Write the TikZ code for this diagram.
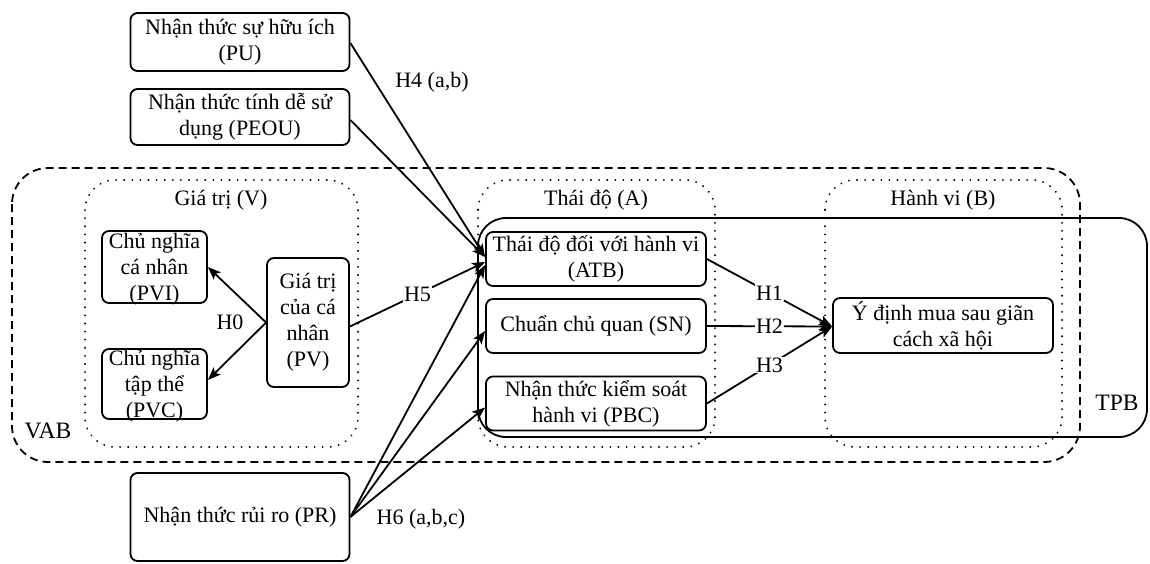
\documentclass[tikz,border=0pt]{standalone}
\usepackage{fontspec}
\setmainfont{Liberation Serif}
\usetikzlibrary{arrows.meta,calc}
\begin{document}
\begin{tikzpicture}[x=1pt,y=-1pt,
  font=\fontsize{22}{26}\selectfont,
  box/.style={draw, rounded corners=7pt, line width=1.8pt, align=center, inner sep=0pt},
  txt/.style={align=center, inner sep=0pt},
  arr/.style={-{Stealth[length=13pt,width=10pt,inset=3pt]}, line width=1.8pt},
  lbl/.style={fill=white, inner sep=1pt},
  dotbox/.style={line width=2pt, dash pattern=on 0.1pt off 8pt, line cap=round, rounded corners=30pt},
  dashbox/.style={line width=1.8pt, dash pattern=on 8pt off 5pt, rounded corners=36pt},
  tpbbox/.style={line width=1.8pt, rounded corners=28pt},
  big/.style={font=\fontsize{23.5}{27}\selectfont}
]
\useasboundingbox (0,0) rectangle (1150,563);
\fill[white] (0,0) rectangle (1150,563);

% containers
\draw[dashbox] (12,168) rectangle (1080,462);
\draw[dotbox] (85,180) rectangle (358,447);
\draw[dotbox] (478,180) rectangle (715,447);
\draw[dotbox] (825,180) rectangle (1062,447);
\draw[tpbbox] (478,218) rectangle (1147,437);

\node[txt] (lv) at (221,200) {Giá trị (V)};
\node[txt] (la) at (596,200) {Thái độ (A)};
\node[txt] (lb) at (943,200) {Hành vi (B)};
\node[txt,big] (lvab) at (48,431) {VAB};
\node[txt,big] (ltpb) at (1117,403) {TPB};

% nodes
\node[box, minimum width=219pt, minimum height=58pt] (pu) at (240,42) {Nhận thức sự hữu ích\\(PU)};
\node[box, minimum width=219pt, minimum height=56pt] (peou) at (240,117) {Nhận thức tính dễ sử\\dụng (PEOU)};
\node[box, minimum width=219pt, minimum height=88pt] (pr) at (240,517) {Nhận thức rủi ro (PR)};

\node[box, minimum width=105pt, minimum height=72pt] (pvi) at (154.5,267) {};
\node[txt] (pvit) at (154.5,269) {Chủ nghĩa\\cá nhân\\(PVI)};
\node[box, minimum width=105pt, minimum height=70pt] (pvc) at (154.5,384) {};
\node[txt] (pvct) at (154.5,386) {Chủ nghĩa\\tập thể\\(PVC)};
\node[box, minimum width=82pt, minimum height=129pt] (pv) at (308,322.5) {Giá trị\\của cá\\nhân\\(PV)};

\node[box, minimum width=220pt, minimum height=54pt] (atb) at (596,259) {Thái độ đối với hành vi\\(ATB)};
\node[box, minimum width=220pt, minimum height=54pt] (sn) at (596,326) {Chuẩn chủ quan (SN)};
\node[box, minimum width=220pt, minimum height=54pt] (pbc) at (596,403.5) {Nhận thức kiểm soát\\hành vi (PBC)};
\node[box, minimum width=220pt, minimum height=55pt] (yd) at (943,325.5) {Ý định mua sau giãn\\cách xã hội};

% connectors
\draw[arr] (pv.west) -- (pvi.east);
\draw[arr] (pv.west) -- ($(pvc.east)+(0,-4)$);
\node[txt] (h0) at (230,322) {H0};

\draw[arr] ($(pu.east)+(0,1)$) -- ($(atb.west)+(0,-2)$);
\draw[arr] ($(peou.east)+(0,3)$) -- ($(atb.west)+(0,-2)$);
\node[txt] (h4) at (432,82) {H4 (a,b)};

\draw[arr] ($(pv.east)+(0,4)$) -- node[lbl,pos=0.5] (h5) {H5} ($(atb.west)+(0,3)$);

\draw[arr] (pr.east) -- ($(atb.west)+(0,6)$);
\draw[arr] (pr.east) -- ($(sn.west)+(0,5)$);
\draw[arr] (pr.east) -- ($(pbc.west)+(0,4)$);
\node[txt] (h6) at (421,519) {H6 (a,b,c)};

\draw[arr] (atb.east) -- node[lbl,pos=0.5] (h1) {H1} ($(yd.west)+(0,1)$);
\draw[arr] (sn.east) -- node[lbl,pos=0.5] (h2) {H2} ($(yd.west)+(0,1)$);
\draw[arr] (pbc.east) -- node[lbl,pos=0.5] (h3) {H3} ($(yd.west)+(0,1)$);
\end{tikzpicture}
\end{document}
